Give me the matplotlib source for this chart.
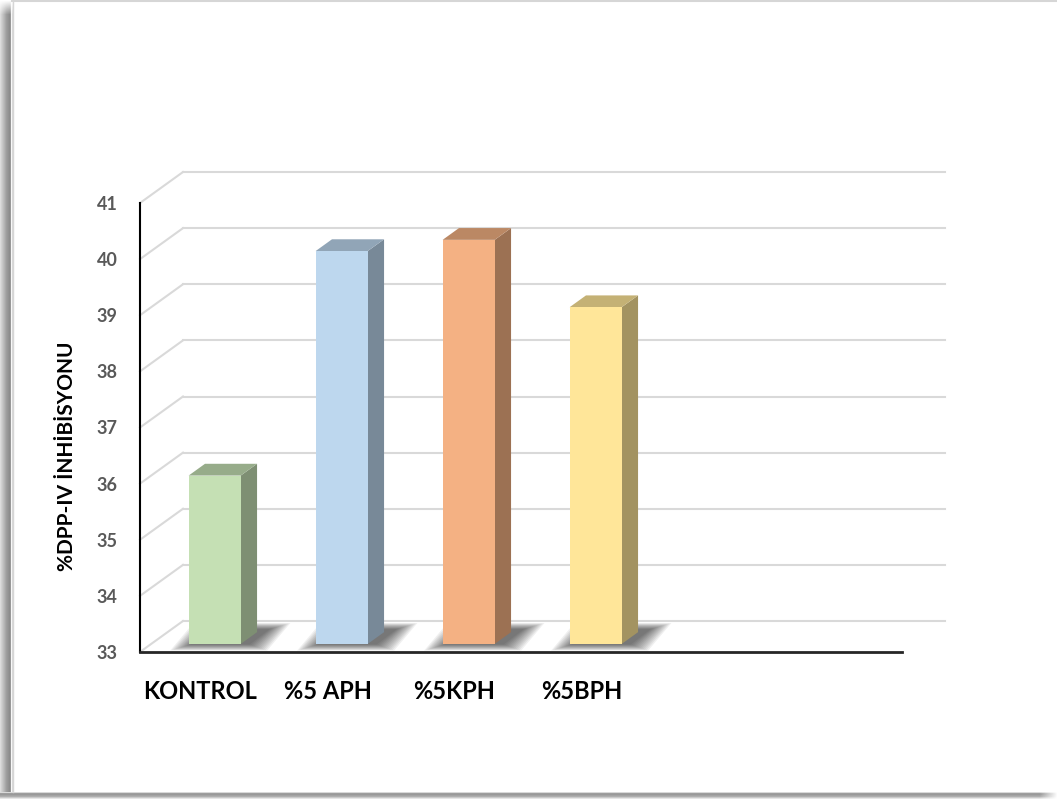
import numpy as np
import matplotlib.pyplot as plt
from matplotlib.patches import Polygon
from matplotlib.lines import Line2D
from matplotlib import transforms

# chart data
categories = ['KONTROL', '%5 APH', '%5KPH', '%5BPH', '', '']
values = [36.0, 40.0, 40.2, 39.0]
face_colors = ['#C5E0B4', '#BDD7EE', '#F4B183', '#FFE699']
y_ticks = list(range(33, 42))
y_label = '%DPP-IV İNHİBİSYONU'

W, H, DPI = 1057, 799, 100
DX, DY = 43, 31          # pixel offset from front to back wall
D0, D1 = 0.26, 0.64      # depth of bar front / back faces
BW = 0.41                # bar width in category units
GRID = '#d9d9d9'

plt.rcParams['font.family'] = ['Lato', 'DejaVu Sans']
plt.rcParams['font.weight'] = 'bold'

fig = plt.figure(figsize=(W / DPI, H / DPI), dpi=DPI)
fig.patch.set_facecolor('white')

# panel frame with soft shadow on the left and bottom
bg = fig.add_axes([0, 0, 1, 1], zorder=-5)
bg.set_xlim(0, W)
bg.set_ylim(H, 0)
bg.axis('off')
prof = np.interp(np.arange(13), [0, 3, 6, 9, 10, 11, 12], [0.86, 0.74, 0.62, 0.55, 0.6, 0.97, 0.85])
fade = np.clip(np.arange(H - 5) / 14.0, 0, 1)[:, None]
left = 1 - (1 - prof[None, :]) * fade
bg.imshow(left, cmap='gray', vmin=0, vmax=1, extent=[0, 13, H - 5, 0], aspect='auto', interpolation='bilinear')
bprof = np.interp(np.arange(7), [0, 1, 2, 4, 6], [0.85, 0.62, 0.6, 0.68, 0.9])
bfade = np.clip((W - np.arange(W)) / 18.0, 0, 1)[None, :]
bottom = 1 - (1 - bprof[:, None]) * bfade
bg.imshow(bottom, cmap='gray', vmin=0, vmax=1, extent=[0, W, H, H - 7], aspect='auto', interpolation='bilinear')
bg.plot([12, W], [1, 1], color='#d6d6d6', lw=1.5)
bg.plot([12.5, 12.5], [1, H - 7], color='#d6d6d6', lw=1)

# front plane of the floor / value axis
ax = fig.add_axes([140 / W, (H - 652) / H, 762 / W, 449 / H])
ax.set_xlim(-0.5, 5.5)
ax.set_ylim(33, 41)
ax.patch.set_alpha(0)
for s in ['top', 'right']:
    ax.spines[s].set_visible(False)
ax.spines['left'].set_linewidth(1.5)
ax.spines['left'].set_color('black')
ax.spines['bottom'].set_linewidth(2)
ax.spines['bottom'].set_color('#262626')
ax.spines['left'].set_zorder(6)
ax.spines['bottom'].set_zorder(6)


def pt(x, v, d):
    px, py = ax.transData.transform((x, v))
    return (px + DX * d, py + DY * d)


ident = transforms.IdentityTransform()

# back wall gridlines and side wall diagonals
for v in y_ticks:
    ax.add_line(Line2D(*zip(pt(-0.5, v, 1), pt(5.5, v, 1)), transform=ident,
                       color=GRID, lw=1.5, zorder=0, clip_on=False))
    ax.add_line(Line2D(*zip(pt(-0.5, v, 0), pt(-0.5, v, 1)), transform=ident,
                       color=GRID, lw=1.5, zorder=0, clip_on=False))


def shade(color, k):
    r, g, b = [int(color[j:j + 2], 16) for j in (1, 3, 5)]
    return '#%02x%02x%02x' % (int(r * k), int(g * k), int(b * k))


for i, (v, c) in enumerate(zip(values, face_colors)):
    xl, xr = i - BW / 2, i + BW / 2
    # soft floor shadow, strongest next to the side face
    foot = np.array([pt(xl + 0.03, 33, D0), pt(xr + 0.06, 33, D0),
                     pt(xr + 0.06, 33, D1 + 0.08), pt(xl + 0.03, 33, D1 + 0.08)])
    cen = foot.mean(axis=0)
    for r in range(12, 0, -1):
        grown = cen + (foot - cen) * (1 + 0.015 * r) + np.sign(foot - cen) * np.array([1.3, 0.45]) * r
        ax.add_patch(Polygon(grown, closed=True, transform=ident, facecolor='black',
                             edgecolor='none', alpha=0.06, zorder=1, clip_on=False))
    front = [pt(xl, 33, D0), pt(xr, 33, D0), pt(xr, v, D0), pt(xl, v, D0)]
    side = [pt(xr, 33, D0), pt(xr, 33, D1), pt(xr, v, D1), pt(xr, v, D0)]
    top = [pt(xl, v, D0), pt(xr, v, D0), pt(xr, v, D1), pt(xl, v, D1)]
    for poly, col in [(side, shade(c, 0.64)), (top, shade(c, 0.77)), (front, c)]:
        ax.add_patch(Polygon(poly, closed=True, transform=ident, facecolor=col,
                             edgecolor='none', zorder=3, clip_on=False))

ax.set_yticks(y_ticks)
ax.set_yticklabels([str(t) for t in y_ticks])
ax.tick_params(axis='y', length=0, pad=16, labelsize=13, labelcolor='#595959')
ax.set_xticks(range(len(categories)))
ax.set_xticklabels(categories)
ax.tick_params(axis='x', length=0, pad=20, labelsize=17, labelcolor='black')
for lbl in ax.get_xticklabels() + ax.get_yticklabels():
    lbl.set_fontweight('bold')
for lbl in ax.get_xticklabels():
    lbl.set_transform(lbl.get_transform() + transforms.ScaledTranslation(-3 / DPI, 0, fig.dpi_scale_trans))

fig.text(67 / W, 1 - 456 / H, y_label, rotation=90, ha='center', va='center',
         fontsize=15, fontweight='bold', color='black')

fig.savefig('out.png', dpi=DPI, facecolor='white')
